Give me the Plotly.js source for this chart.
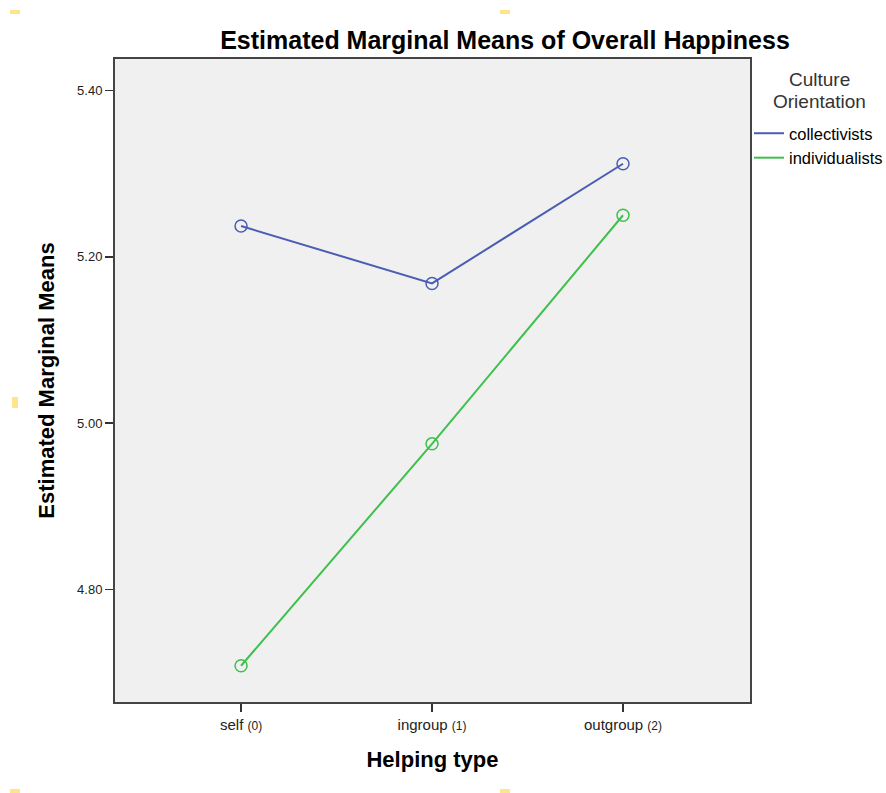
<!DOCTYPE html>
<html><head><meta charset="utf-8">
<script src="https://cdn.plot.ly/plotly-3.0.1.min.js"></script>
<style>html,body{margin:0;padding:0;background:#fff;}#chart{width:886px;height:793px;}</style>
</head><body><div id="chart"></div>
<script>
var categories = ["self", "ingroup", "outgroup"];
var categoryCodes = ["(0)", "(1)", "(2)"];
var seriesNames = ["collectivists", "individualists"];
var collectivists = [5.237, 5.168, 5.312];
var individualists = [4.708, 4.975, 5.250];
var yTicks = [4.80, 5.00, 5.20, 5.40];
var xPos = [0, 1, 2];
var colors = ['#4a5db3', '#3ec04b'];

var tickText = categories.map(function(c, i){ return c + ' <span style="font-size:12px">' + categoryCodes[i] + '</span>'; });

function trace(name, y, color){
  return {x: xPos, y: y, name: name, type: 'scatter', mode: 'lines+markers', showlegend: false,
    line: {color: color, width: 2},
    marker: {symbol: 'circle-open', size: 12, color: color, line: {width: 1.5, color: color}}};
}
function legendEntry(name, color){
  return {x: [null], y: [null], name: name, type: 'scatter', mode: 'lines', line: {color: color, width: 2}, showlegend: true};
}

var W = 886, H = 793, L = 115, R = 136, T = 59, B = 91;
function px(x){ return (x - L) / (W - L - R); }
function py(y){ return (H - B - y) / (H - T - B); }
var yellow = '#FFE48A';
function mark(x0, y0, x1, y1){ return {type:'rect', xref:'paper', yref:'paper', x0:px(x0), x1:px(x1), y0:py(y1), y1:py(y0), fillcolor:yellow, line:{width:0}}; }

var layout = {
  width: W, height: H,
  margin: {l: L, r: R, t: T, b: B, autoexpand: false},
  paper_bgcolor: '#ffffff', plot_bgcolor: '#f0f0f0',
  font: {family: 'Liberation Sans, Arial, sans-serif', color: '#000'},
  title: {text: '<b>Estimated Marginal Means of Overall Happiness</b>', font: {size: 25, color: '#000'}, x: 505/886, xanchor: 'center', y: 1 - 40/793, yanchor: 'middle'},
  xaxis: {range: [-0.66, 2.665], tickvals: xPos, ticktext: tickText, ticks: 'outside', ticklen: 8, tickwidth: 1.5, tickcolor: '#333',
    showgrid: false, zeroline: false, showline: true, linecolor: '#444', linewidth: 2, mirror: true,
    tickfont: {family: 'Liberation Sans, Arial', size: 15, color: '#222'},
    title: {text: '<b>Helping type</b>', font: {size: 22, color: '#000'}, standoff: 20}},
  yaxis: {range: [4.6644, 5.438], tickvals: yTicks, ticktext: yTicks.map(function(v){return v.toFixed(2);}), ticks: 'outside', ticklen: 8, tickwidth: 1.5, tickcolor: '#333',
    showgrid: false, zeroline: false, showline: true, linecolor: '#444', linewidth: 2, mirror: true,
    tickfont: {family: 'Liberation Sans Narrow, Liberation Sans, Arial', size: 13, color: '#222'},
    title: {text: '<b>Estimated Marginal Means</b>', font: {size: 22, color: '#000'}, standoff: 16}},
  legend: {x: px(749), xanchor: 'left', y: py(116), yanchor: 'top', bgcolor: 'rgba(0,0,0,0)', borderwidth: 0,
    font: {size: 16.5, color: '#000'}, tracegroupgap: 0, itemwidth: 30},
  showlegend: true,
  annotations: [
    {xref: 'paper', yref: 'paper', x: px(819), y: py(80), xanchor: 'center', yanchor: 'middle', showarrow: false, text: 'Culture', font: {size: 19, color: '#333'}},
    {xref: 'paper', yref: 'paper', x: px(819), y: py(101), xanchor: 'center', yanchor: 'middle', showarrow: false, text: 'Orientation', font: {size: 19, color: '#333'}}
  ],
  shapes: [mark(10,10,20,14), mark(500,10,510,14), mark(12,397,18,408), mark(10,789,20,793), mark(500,789,510,793)]
};

Plotly.newPlot('chart', [
  trace(seriesNames[0], collectivists, colors[0]),
  trace(seriesNames[1], individualists, colors[1]),
  legendEntry(seriesNames[0], colors[0]),
  legendEntry(seriesNames[1], colors[1])
], layout, {displayModeBar: false, staticPlot: true});
</script></body></html>
